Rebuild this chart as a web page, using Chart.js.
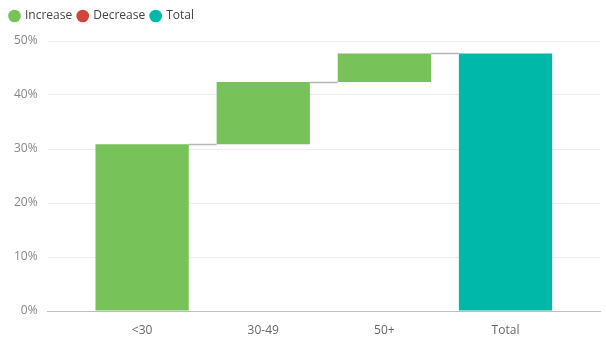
<!DOCTYPE html>
<html>
<head>
<meta charset="utf-8">
<script src="https://cdn.jsdelivr.net/npm/chart.js@4"></script>
<style>
  html, body { margin: 0; padding: 0; background: #fff; }
  #wrap { width: 606px; height: 338px; }
</style>
</head>
<body>
<div id="wrap"><canvas id="wfChart" width="606" height="338"></canvas></div>
<script>
// ── Data ──
const CATEGORIES = ['<30', '30-49', '50+', 'Total'];
const STEPS      = [30.9, 11.5, 5.3];   // % increase for each age group
const Y_TICKS    = [0, 10, 20, 30, 40, 50];

const GREEN = '#77c35a';
const RED   = '#d0473a';
const TEAL  = '#00b8a8';

// running totals
const cum = [];
STEPS.reduce((acc, v, i) => (cum[i] = +(acc + v).toFixed(1)), 0);
const TOTAL = cum[cum.length - 1];

const incData = STEPS.map((v, i) => ({ x: i, y: [i === 0 ? 0 : cum[i - 1], cum[i]] }));
const totalData = [{ x: CATEGORIES.length - 1, y: [0, TOTAL] }];
const levels = cum.concat([TOTAL]);

// ── connector lines between bars ──
const connectors = {
  id: 'connectors',
  afterDatasetsDraw(chart) {
    const ctx = chart.ctx;
    const y = chart.scales.y;
    const bars = [];
    chart.data.datasets.forEach((ds, di) => {
      chart.getDatasetMeta(di).data.forEach((el, j) => bars[ds.data[j].x] = el);
    });
    ctx.save();
    ctx.strokeStyle = '#b4b4b4';
    ctx.lineWidth = 1.5;
    for (let i = 0; i < bars.length - 1; i++) {
      const a = bars[i], b = bars[i + 1];
      if (!a || !b) continue;
      const py = Math.round(y.getPixelForValue(levels[i])) + 0.5;
      ctx.beginPath();
      ctx.moveTo(a.x + a.width / 2, py);
      ctx.lineTo(b.x - b.width / 2, py);
      ctx.stroke();
    }
    ctx.restore();
  }
};

// a bit more room under the legend
const legendGap = {
  id: 'legendGap',
  beforeInit(chart) {
    const fit = chart.legend.fit;
    chart.legend.fit = function () {
      fit.call(this);
      this.height += 9;
    };
  }
};

const FONT = "'Open Sans', 'Noto Sans', sans-serif";

new Chart(document.getElementById('wfChart'), {
  type: 'bar',
  data: {
    datasets: [
      { label: 'Increase', data: incData, backgroundColor: GREEN, grouped: false },
      { label: 'Decrease', data: [], backgroundColor: RED, grouped: false },
      { label: 'Total', data: totalData, backgroundColor: TEAL, grouped: false },
    ]
  },
  options: {
    responsive: false,
    animation: false,
    layout: { padding: { left: 4, right: 6, top: 4, bottom: 0 } },
    datasets: { bar: { barPercentage: 0.77, categoryPercentage: 1 } },
    plugins: {
      legend: {
        position: 'top',
        align: 'start',
        labels: {
          usePointStyle: true,
          pointStyle: 'circle',
          boxWidth: 9,
          boxHeight: 9,
          padding: 6,
          color: '#444',
          font: { family: FONT, size: 12 }
        }
      },
      tooltip: { enabled: false }
    },
    scales: {
      x: {
        type: 'linear',
        offset: false,
        min: -0.78,
        max: 3.78,
        afterBuildTicks: s => { s.ticks = CATEGORIES.map((c, i) => ({ value: i })); },
        afterFit: s => { s.height = 27; },
        ticks: {
          callback: v => CATEGORIES[v],
          color: '#666',
          padding: 12,
          maxRotation: 0,
          font: { family: FONT, size: 12 }
        },
        grid: { display: false, drawTicks: false },
        border: { display: true, color: '#bdbdbd', width: 1 }
      },
      y: {
        min: 0,
        max: 50,
        afterBuildTicks: s => { s.ticks = Y_TICKS.map(v => ({ value: v })); },
        ticks: {
          callback: v => v + '%',
          color: '#888',
          padding: 10,
          font: { family: FONT, size: 12 }
        },
        grid: { color: '#ececec', drawTicks: false },
        border: { display: false }
      }
    }
  },
  plugins: [connectors, legendGap]
});
</script>
</body>
</html>
